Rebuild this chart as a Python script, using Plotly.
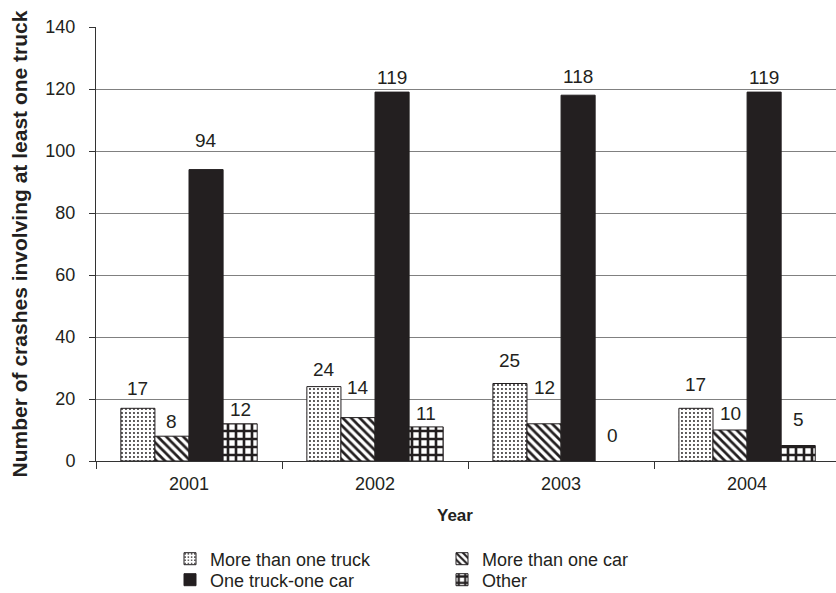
import plotly.graph_objects as go

# Crashes involving at least one truck, by year and crash type
years = ["2001", "2002", "2003", "2004"]
more_than_one_truck = [17, 24, 25, 17]
more_than_one_car = [8, 14, 12, 10]
one_truck_one_car = [94, 119, 118, 119]
other = [12, 11, 0, 5]

series_names = ["More than one truck", "More than one car", "One truck-one car", "Other"]
series_values = [more_than_one_truck, more_than_one_car, one_truck_one_car, other]

# Gap (px) between each bar top and its value label
label_gaps = [
    [12, 10, 16, 16],
    [7, 23, 29, 9],
    [22, 7, 11, 7],
    [7, 6, 18, 19],
]

INK = "#231f20"
FONT = "Liberation Sans, Arial, sans-serif"

patterns = [
    dict(shape=".", size=4, solidity=0.18, fgcolor=INK, bgcolor="white", fillmode="replace"),
    dict(shape="\\", size=6, solidity=0.45, fgcolor=INK, bgcolor="white", fillmode="replace"),
    None,
    dict(shape="+", size=8, solidity=0.55, fgcolor=INK, bgcolor="white", fillmode="replace"),
]
legend_ids = ["legend", "legend", "legend2", "legend2"]

fig = go.Figure()
for name, vals, pat, lg in zip(series_names, series_values, patterns, legend_ids):
    # zero-height bars are left without an outline
    outline = [1 if v > 0 else 0 for v in vals]
    marker = dict(color=INK if pat is None else "white", line=dict(color=INK, width=outline))
    if pat is not None:
        marker["pattern"] = pat
    fig.add_trace(go.Bar(name=name, x=years, y=vals, marker=marker, legend=lg))

BARGAP = 0.267
n_series = len(series_values)
bar_w = (1 - BARGAP) / n_series

# Value labels centred above each bar
for k, (vals, gaps) in enumerate(zip(series_values, label_gaps)):
    for i, (v, g) in enumerate(zip(vals, gaps)):
        fig.add_annotation(
            x=i + (k - (n_series - 1) / 2) * bar_w, y=v, xref="x", yref="y",
            text=str(v), showarrow=False, yanchor="bottom", yshift=g - 5,
            font=dict(family=FONT, size=19, color=INK),
        )

# x-axis title
fig.add_annotation(
    x=(455 - 96) / 740, y=-(515 - 461) / 434, xref="paper", yref="paper",
    text="<b>Year</b>", showarrow=False, xanchor="center", yanchor="middle",
    font=dict(family=FONT, size=17, color=INK),
)

fig.update_layout(
    width=836, height=593,
    margin=dict(l=96, r=0, t=27, b=132, autoexpand=False),
    paper_bgcolor="white", plot_bgcolor="white",
    barmode="group", bargap=BARGAP, bargroupgap=0,
    font=dict(family=FONT, size=18, color=INK),
    legend=dict(orientation="h", x=0.1, xanchor="left", y=-(559 - 461) / 434, yanchor="middle",
                entrywidth=227, font=dict(size=18), bgcolor="rgba(0,0,0,0)"),
    legend2=dict(orientation="h", x=0.1, xanchor="left", y=-(580 - 461) / 434, yanchor="middle",
                 entrywidth=227, font=dict(size=18), bgcolor="rgba(0,0,0,0)"),
)

fig.update_xaxes(
    type="category", range=[-0.5, 3.478],
    showline=True, linecolor="#333", linewidth=1,
    ticks="outside", tickson="boundaries", ticklen=7, tickcolor="#333",
    ticklabelstandoff=6, tickfont=dict(size=18),
    showgrid=False,
)
fig.update_yaxes(
    range=[0, 140], dtick=20,
    showline=True, linecolor="#333", linewidth=1,
    ticks="outside", ticklen=6, tickcolor="#333",
    ticklabelstandoff=10, tickfont=dict(size=18),
    showgrid=True, gridcolor="#808080", gridwidth=1, zeroline=False,
    title=dict(text="<b>Number of crashes involving at least one truck</b>", font=dict(size=21), standoff=12),
)

fig.write_html("out.html")
